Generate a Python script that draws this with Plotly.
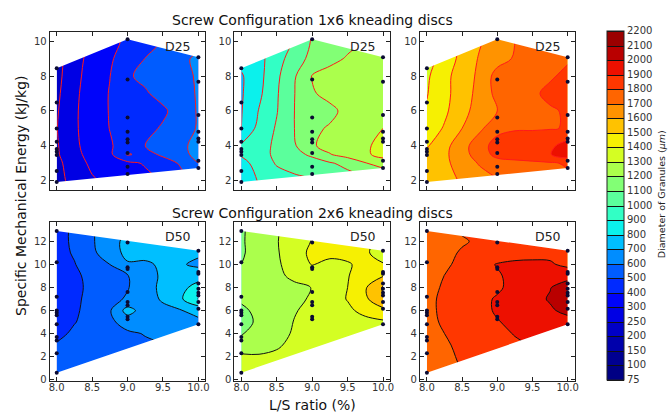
import numpy as np
import plotly.graph_objects as go

# ---------------- data ----------------
LEVELS = [75, 100, 150, 200, 250, 300, 400, 500, 600, 700, 800, 900, 1000, 1100,
          1200, 1300, 1400, 1500, 1600, 1700, 1800, 1900, 2000, 2100, 2200]
LEVEL_LABELS = [str(v) for v in LEVELS]

GRID_X = [8.0, 8.25, 8.5, 8.75, 9.0, 9.25, 9.5, 9.75, 10.0]
GRID_Y_TOP = [1.5, 2, 3, 3.5, 4, 5, 6, 7, 8, 9, 10, 10.5]
GRID_Y_BOTTOM = [0, 1, 2, 3, 4, 5, 6, 7, 8, 9, 10, 11, 12, 13]

# granule diameter (um), rows follow GRID_Y_*, columns GRID_X
D25_PANEL1 = [
    [230, 260, 290, 310, 330, 360, 400, 460, 550],
    [235, 265, 295, 320, 340, 370, 410, 470, 560],
    [235, 280, 318, 347, 376, 410, 460, 510, 600],
    [243, 288, 330, 380, 510, 470, 515, 570, 630],
    [245, 290, 345, 390, 445, 500, 540, 580, 630],
    [248, 293, 350, 402, 440, 475, 510, 550, 610],
    [245, 293, 350, 405, 430, 460, 485, 540, 610],
    [240, 290, 350, 405, 450, 490, 530, 560, 610],
    [235, 285, 345, 398, 490, 520, 545, 575, 610],
    [235, 278, 340, 388, 445, 502, 538, 577, 620],
    [240, 280, 310, 370, 420, 460, 505, 530, 560],
    [240, 280, 310, 370, 420, 460, 505, 530, 560],
]
D25_PANEL2 = [
    [855, 900, 945, 970, 990, 1020, 1040, 1060, 1090],
    [860, 905, 950, 975, 995, 1030, 1050, 1070, 1100],
    [870, 935, 1010, 1040, 1065, 1090, 1130, 1195, 1240],
    [910, 955, 1025, 1075, 1115, 1195, 1240, 1280, 1340],
    [915, 960, 1020, 1090, 1190, 1230, 1260, 1285, 1330],
    [795, 935, 1010, 1100, 1180, 1210, 1250, 1270, 1300],
    [795, 905, 995, 1100, 1140, 1175, 1230, 1260, 1270],
    [790, 880, 990, 1098, 1190, 1230, 1260, 1270, 1280],
    [790, 870, 980, 1090, 1205, 1240, 1260, 1270, 1290],
    [830, 870, 960, 1050, 1130, 1170, 1210, 1240, 1250],
    [850, 880, 940, 1010, 1110, 1140, 1170, 1210, 1230],
    [850, 880, 940, 1010, 1110, 1140, 1170, 1210, 1230],
]
D25_PANEL3 = [
    [1530, 1560, 1600, 1640, 1680, 1710, 1730, 1750, 1770],
    [1540, 1570, 1610, 1650, 1690, 1720, 1740, 1760, 1780],
    [1540, 1580, 1640, 1710, 1760, 1770, 1780, 1790, 1810],
    [1530, 1580, 1660, 1750, 1830, 1850, 1865, 1895, 1960],
    [1490, 1570, 1660, 1760, 1840, 1860, 1870, 1880, 1940],
    [1440, 1510, 1600, 1680, 1770, 1790, 1790, 1795, 1805],
    [1410, 1480, 1570, 1640, 1700, 1740, 1770, 1790, 1810],
    [1395, 1470, 1555, 1630, 1730, 1760, 1785, 1820, 1850],
    [1385, 1470, 1550, 1620, 1740, 1760, 1775, 1790, 1820],
    [1360, 1440, 1530, 1610, 1660, 1710, 1740, 1770, 1790],
    [1350, 1420, 1520, 1590, 1660, 1700, 1720, 1740, 1760],
    [1350, 1420, 1520, 1590, 1660, 1700, 1720, 1740, 1760],
]
D50_PANEL1 = [
    [520, 530, 540, 550, 560, 570, 580, 590, 600],
    [520, 530, 540, 550, 560, 570, 580, 590, 600],
    [515, 530, 545, 555, 565, 575, 585, 595, 605],
    [510, 530, 550, 565, 575, 585, 595, 610, 620],
    [470, 520, 550, 570, 585, 605, 630, 650, 660],
    [450, 495, 540, 580, 640, 650, 660, 670, 680],
    [445, 485, 535, 590, 740, 650, 670, 695, 730],
    [440, 480, 530, 575, 610, 650, 715, 785, 905],
    [440, 475, 525, 565, 595, 650, 730, 770, 840],
    [450, 480, 530, 570, 595, 650, 720, 740, 760],
    [455, 495, 560, 600, 690, 680, 720, 710, 680],
    [465, 510, 580, 655, 725, 740, 745, 730, 715],
    [470, 515, 590, 660, 730, 750, 760, 750, 740],
    [460, 520, 590, 650, 700, 730, 750, 740, 720],
]
D50_PANEL2 = [
    [1320, 1325, 1330, 1335, 1340, 1345, 1350, 1355, 1360],
    [1320, 1325, 1330, 1335, 1340, 1345, 1350, 1355, 1360],
    [1320, 1310, 1315, 1322, 1330, 1335, 1340, 1345, 1350],
    [1235, 1260, 1290, 1320, 1330, 1340, 1345, 1350, 1355],
    [1195, 1230, 1270, 1310, 1325, 1335, 1345, 1355, 1365],
    [1170, 1215, 1265, 1303, 1320, 1335, 1350, 1370, 1385],
    [1180, 1225, 1260, 1295, 1320, 1345, 1380, 1430, 1470],
    [1215, 1235, 1255, 1280, 1310, 1355, 1405, 1480, 1590],
    [1220, 1240, 1260, 1280, 1302, 1350, 1400, 1490, 1610],
    [1215, 1245, 1280, 1320, 1350, 1370, 1395, 1450, 1495],
    [1200, 1240, 1285, 1345, 1405, 1370, 1390, 1430, 1405],
    [1190, 1235, 1290, 1360, 1420, 1430, 1430, 1410, 1370],
    [1190, 1240, 1295, 1350, 1405, 1420, 1420, 1410, 1390],
    [1190, 1235, 1290, 1350, 1400, 1420, 1420, 1410, 1400],
]
D50_PANEL3 = [
    [1725, 1765, 1800, 1830, 1850, 1865, 1880, 1890, 1900],
    [1730, 1770, 1805, 1835, 1855, 1870, 1885, 1895, 1905],
    [1735, 1775, 1815, 1840, 1860, 1875, 1890, 1900, 1910],
    [1740, 1785, 1825, 1845, 1865, 1885, 1905, 1915, 1925],
    [1750, 1800, 1830, 1850, 1875, 1905, 1920, 1930, 1940],
    [1760, 1820, 1845, 1865, 1895, 1920, 1935, 1950, 1960],
    [1770, 1825, 1850, 1875, 1910, 1935, 1955, 1985, 2030],
    [1770, 1825, 1850, 1875, 1910, 1940, 1965, 2010, 2080],
    [1760, 1815, 1845, 1865, 1885, 1930, 1960, 1995, 2060],
    [1740, 1802, 1840, 1860, 1890, 1925, 1940, 1950, 1960],
    [1735, 1780, 1830, 1870, 1905, 1920, 1920, 1910, 1880],
    [1740, 1775, 1810, 1830, 1850, 1860, 1870, 1880, 1890],
    [1750, 1770, 1790, 1815, 1830, 1850, 1860, 1870, 1880],
    [1750, 1780, 1810, 1820, 1830, 1840, 1850, 1860, 1870],
]

# measured runs (L/S ratio, SME)
TOP_LS = [8.0] * 9 + [9.0] * 9 + [10.0] * 8
TOP_SME = [8.45, 6.48, 4.99, 4.23, 3.81, 3.66, 3.47, 2.55, 1.92,
           10.12, 7.81, 5.62, 4.8, 4.38, 4.19, 3.58, 2.8, 2.38,
           9.09, 7.68, 5.77, 4.8, 4.42, 4.23, 3.14, 2.72]
BOT_LS = [8.0] * 11 + [9.0] * 8 + [10.0] * 10
BOT_SME = [12.9, 10.2, 7.2, 6.0, 5.8, 5.6, 4.8, 3.7, 3.4, 2.3, 0.6,
           11.9, 9.75, 9.6, 7.6, 6.75, 6.45, 5.45, 5.25,
           11.2, 9.35, 9.2, 8.35, 7.9, 7.55, 7.3, 6.75, 6.15, 4.8]

ROW_TITLES = ["Screw Configuration 1x6 kneading discs", "Screw Configuration 2x6 kneading discs"]
PANEL_TAGS = ["D25", "D25", "D25", "D50", "D50", "D50"]

# ---------------- helpers ----------------
def jet(t):
    k = min(int(t * 256), 255)
    t = k / 255.0
    r = np.interp(t, [0, 0.35, 0.66, 0.89, 1], [0, 0, 1, 1, 0.5])
    g = np.interp(t, [0, 0.125, 0.375, 0.64, 0.91, 1], [0, 0, 1, 1, 0, 0])
    b = np.interp(t, [0, 0.11, 0.34, 0.65, 1], [0.5, 1, 1, 0, 0])
    return "rgb(%d,%d,%d)" % (round(r * 255), round(g * 255), round(b * 255))

mids = [(LEVELS[i] + LEVELS[i + 1]) / 2 for i in range(len(LEVELS) - 1)]
band_colors = [jet((m - LEVELS[0]) / (LEVELS[-1] - LEVELS[0])) for m in mids]
stops = [band_colors[0]] + band_colors + [band_colors[-1]]
n = len(stops) - 1
COLORSCALE = [[k / n, stops[k]] for k in range(len(stops))]
NLEV = len(LEVELS) - 1


def to_index(z):
    return np.interp(np.array(z, dtype=float), LEVELS, np.arange(len(LEVELS)))


def hull(xs, ys):
    pts = sorted(set(zip(xs, ys)))

    def cross(o, a, b):
        return (a[0] - o[0]) * (b[1] - o[1]) - (a[1] - o[1]) * (b[0] - o[0])
    lower, upper = [], []
    for p in pts:
        while len(lower) >= 2 and cross(lower[-2], lower[-1], p) <= 0:
            lower.pop()
        lower.append(p)
    for p in reversed(pts):
        while len(upper) >= 2 and cross(upper[-2], upper[-1], p) <= 0:
            upper.pop()
        upper.append(p)
    return lower[:-1] + upper[:-1]   # counter-clockwise


W, H = 672, 420
COLS = [(49, 206), (235, 392), (422, 578)]
ROWS = [(32, 192), (224, 385)]
XR = [7.9, 10.1]
YR = [[1.45, 10.55], [-0.15, 13.7]]
FONT = "DejaVu Sans"

panels = [
    (D25_PANEL1, 0, 0), (D25_PANEL2, 0, 1), (D25_PANEL3, 0, 2),
    (D50_PANEL1, 1, 0), (D50_PANEL2, 1, 1), (D50_PANEL3, 1, 2),
]

fig = go.Figure()
layout = {}
annotations = []
for i, (zvals, r, c) in enumerate(panels):
    k = i + 1
    xs = "" if k == 1 else str(k)
    xref, yref = "x" + xs, "y" + xs
    grid_y = GRID_Y_TOP if r == 0 else GRID_Y_BOTTOM
    line_color = "#ff1a1a" if r == 0 else "#111111"
    show = (i == 3)
    fig.add_trace(go.Contour(
        x=GRID_X, y=grid_y, z=to_index(zvals), xaxis=xref, yaxis=yref,
        colorscale=COLORSCALE, zmin=0, zmax=NLEV, autocontour=False,
        contours=dict(start=0, end=NLEV, size=1, coloring="fill", showlines=True),
        line=dict(color=line_color, width=1, smoothing=1),
        showscale=show, hoverinfo="skip",
        colorbar=dict(
            x=611 / W, xanchor="left", xpad=0, ypad=0, thickness=17,
            len=352 / H, lenmode="fraction", y=1 - 207 / H, yanchor="middle",
            tickmode="array", tickvals=list(range(len(LEVELS))), ticktext=LEVEL_LABELS,
            ticks="", tickfont=dict(size=10, color="#333", family=FONT),
            outlinewidth=1, outlinecolor="#222",
        ) if show else None,
    ))
    # white mask outside the convex hull of the measured runs
    px = TOP_LS if r == 0 else BOT_LS
    py = TOP_SME if r == 0 else BOT_SME
    hp = hull(px, py)[::-1]
    rx = [XR[0] - 1, XR[1] + 1, XR[1] + 1, XR[0] - 1, XR[0] - 1]
    ry = [YR[r][0] - 5, YR[r][0] - 5, YR[r][1] + 5, YR[r][1] + 5, YR[r][0] - 5]
    mx = rx + [p[0] for p in hp] + [hp[0][0], rx[0]]
    my = ry + [p[1] for p in hp] + [hp[0][1], ry[0]]
    fig.add_trace(go.Scatter(x=mx, y=my, xaxis=xref, yaxis=yref, mode="lines",
                             fill="toself", fillcolor="white", line=dict(width=0),
                             hoverinfo="skip", showlegend=False))
    fig.add_trace(go.Scatter(x=px, y=py, xaxis=xref, yaxis=yref, mode="markers",
                             marker=dict(color="#0b0b33", size=4),
                             hoverinfo="skip", showlegend=False))

    x0, x1 = COLS[c]
    t0, t1 = ROWS[r]
    common = dict(showline=True, linecolor="#222", linewidth=1, mirror="allticks",
                  ticks="inside", ticklen=4, tickcolor="#222", showgrid=False,
                  zeroline=False, tickfont=dict(size=10, color="#333", family=FONT))
    layout["xaxis" + xs] = dict(common, domain=[x0 / W, x1 / W], anchor=yref, range=XR,
                                tickmode="array", tickvals=[8, 8.5, 9, 9.5, 10],
                                ticktext=["8.0", "8.5", "9.0", "9.5", "10.0"],
                                ticklabelstandoff=-3,
                                showticklabels=(r == 1))
    layout["yaxis" + xs] = dict(common, domain=[1 - t1 / H, 1 - t0 / H], anchor=xref,
                                range=YR[r], tickmode="array",
                                tickvals=[2, 4, 6, 8, 10] if r == 0 else [0, 2, 4, 6, 8, 10, 12])
    annotations.append(dict(text=PANEL_TAGS[i], xref=xref + " domain", yref=yref + " domain",
                            x=1, y=1, xanchor="right", yanchor="top", xshift=-12, yshift=-5,
                            showarrow=False, font=dict(size=12.5, color="#222", family=FONT)))

annotations += [
    dict(text=ROW_TITLES[0], xref="paper", yref="paper", x=313.5 / W, y=1 - 20 / H,
         xanchor="center", yanchor="middle", showarrow=False,
         font=dict(size=14, color="#111", family=FONT)),
    dict(text=ROW_TITLES[1], xref="paper", yref="paper", x=313.5 / W, y=1 - 215 / H,
         xanchor="center", yanchor="middle", showarrow=False,
         font=dict(size=14, color="#111", family=FONT)),
    dict(text="Specific Mechanical Energy (kJ/kg)", xref="paper", yref="paper",
         x=20 / W, y=1 - 197 / H, xanchor="center", yanchor="middle", textangle=-90,
         showarrow=False, font=dict(size=14, color="#111", family=FONT)),
    dict(text="L/S ratio (%)", xref="paper", yref="paper", x=313.5 / W, y=1 - 409 / H,
         xanchor="center", yanchor="middle", showarrow=False,
         font=dict(size=14, color="#111", family=FONT)),
    dict(text="Diameter of Granules (<i>μm</i>)", xref="paper", yref="paper",
         x=665 / W, y=1 - 196 / H, xanchor="center", yanchor="middle", textangle=-90,
         showarrow=False, font=dict(size=9.5, color="#222", family=FONT)),
]

fig.update_layout(width=W, height=H, margin=dict(l=0, r=0, t=0, b=0),
                  paper_bgcolor="white", plot_bgcolor="white", showlegend=False,
                  font=dict(family=FONT), annotations=annotations, **layout)
fig.write_html("out.html", config={"displayModeBar": False},
               post_script="document.body.style.margin='0';"
                           "document.body.style.overflow='hidden';")
